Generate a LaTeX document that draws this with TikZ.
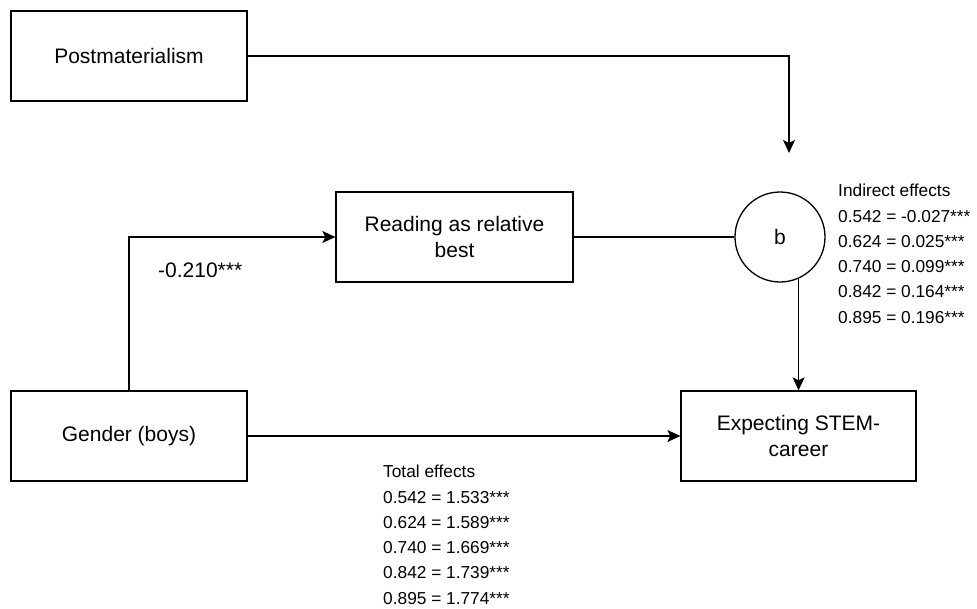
\documentclass[tikz,border=0pt]{standalone}
\usepackage{fontspec}
\setmainfont{Liberation Sans}
\usetikzlibrary{arrows.meta}
\begin{document}
\begin{tikzpicture}[x=1pt,y=-1pt,
  box/.style={draw,line width=1.3pt,minimum width=236pt,minimum height=90pt,align=center,inner sep=0pt,font=\fontsize{21}{25.5}\selectfont},
  arr/.style={line width=1.3pt,-{Stealth[length=13pt,width=12pt,inset=3pt]}},
  conn/.style={line width=1.3pt},
  small/.style={anchor=north west,inner sep=0pt,align=left,font=\fontsize{17.3}{25.3}\selectfont}]
\useasboundingbox (0,0) rectangle (977,608);
\node[box] (post) at (129,56) {Postmaterialism};
\node[box,minimum width=237pt] (read) at (454.5,237) {Reading as relative\\best};
\node[box] (gender) at (129,436) {Gender (boys)};
\node[box,minimum width=235pt] (expect) at (798.5,436) {Expecting STEM-\\career};
\node[draw,circle,line width=1.3pt,minimum size=90pt,inner sep=0pt,font=\fontsize{21}{25}\selectfont] (b) at (780,237) {b};
\coordinate (bin) at (789,153);
\draw[arr] (post.east) -| (bin);
\draw[arr] (gender.north) |- (read.west);
\draw[conn] (read.east) -- (b.west);
\draw[arr] (b.-66) -- (b.-66 |- expect.north);
\draw[arr] (gender.east) -- (expect.west);
\node[anchor=west,inner sep=0pt,font=\fontsize{21}{25}\selectfont] (coef) at (158,270) {-0.210***};
\node[small] (ind) at (838,184) {Indirect effects\\0.542 = -0.027***\\0.624 = 0.025***\\0.740 = 0.099***\\0.842 = 0.164***\\0.895 = 0.196***};
\node[small] (tot) at (383,465) {Total effects\\0.542 = 1.533***\\0.624 = 1.589***\\0.740 = 1.669***\\0.842 = 1.739***\\0.895 = 1.774***};
\end{tikzpicture}
\end{document}
